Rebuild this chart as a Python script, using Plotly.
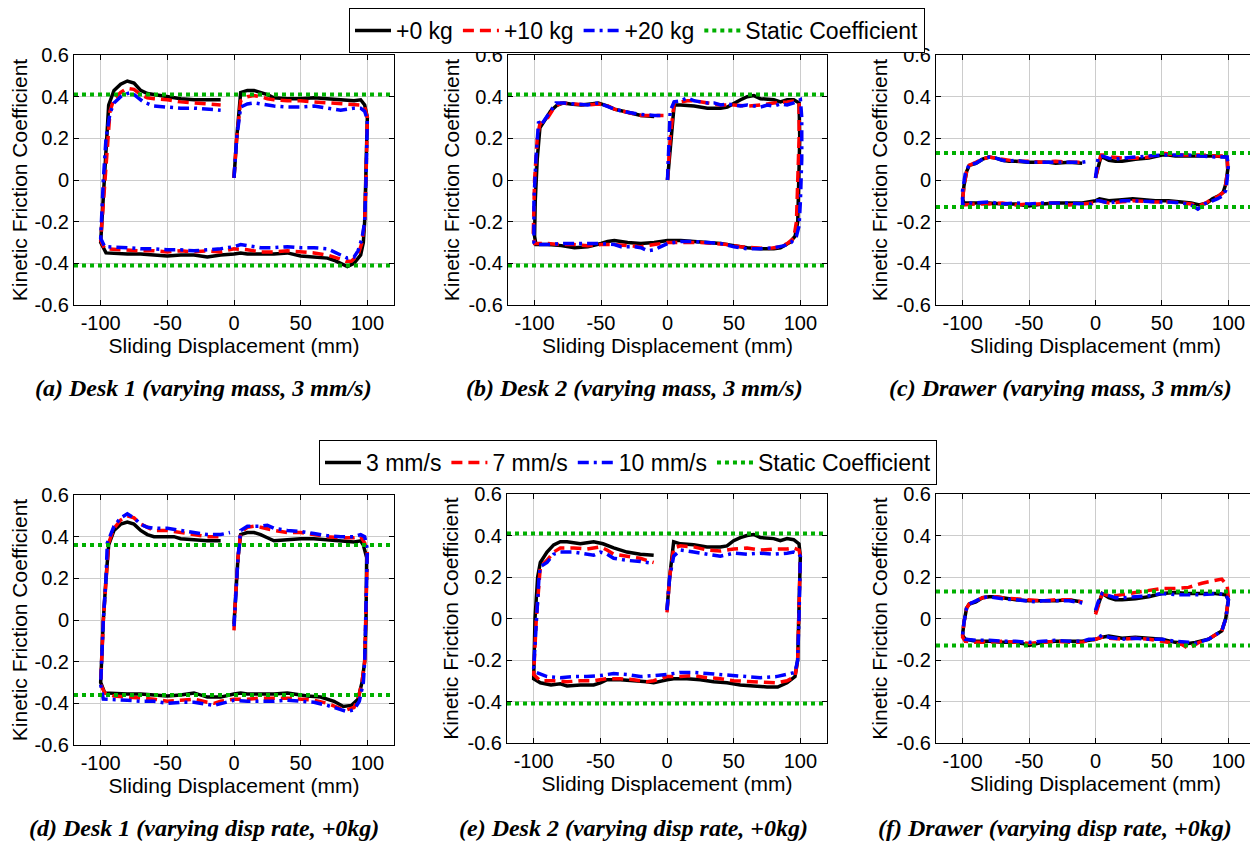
import plotly.graph_objects as go

# ---------------- data ----------------
X_TICKS = [-100, -50, 0, 50, 100]
X_TICK_TEXT = ["-100", "-50", "0", "50", "100"]
Y_TICKS = [-0.6, -0.4, -0.2, 0, 0.2, 0.4, 0.6]
Y_TICK_TEXT = ["-0.6", "-0.4", "-0.2", "0", "0.2", "0.4", "0.6"]
STATIC_X = [-120, 120]

LEGEND1_NAMES = ["+0 kg", "+10 kg", "+20 kg", "Static Coefficient"]
LEGEND2_NAMES = ["3 mm/s", "7 mm/s", "10 mm/s", "Static Coefficient"]
CAPTIONS = [
    "(a) Desk 1 (varying mass, 3 mm/s)",
    "(b) Desk 2 (varying mass, 3 mm/s)",
    "(c) Drawer (varying mass, 3 mm/s)",
    "(d) Desk 1 (varying disp rate, +0kg)",
    "(e) Desk 2 (varying disp rate, +0kg)",
    "(f) Drawer (varying disp rate, +0kg)",
]
STATIC_LEVELS = [0.41, 0.41, 0.13, 0.36, 0.41, 0.13]

# Panel (a) Desk 1, varying mass
A_0KG = [(0,0.01),(2,0.2),(5,0.42),(10,0.43),(15,0.43),(20,0.42),(25,0.41),(30,0.395),(40,0.39),(50,0.39),
         (60,0.395),(70,0.39),(80,0.385),(90,0.38),(95,0.385),(98,0.36),(100,0.30),(99,0.0),(98,-0.2),(97,-0.3),
         (95,-0.36),(90,-0.40),(85,-0.415),(80,-0.40),(75,-0.385),(70,-0.375),(60,-0.37),(50,-0.365),(40,-0.35),
         (30,-0.355),(20,-0.355),(10,-0.355),(5,-0.35),(0,-0.355),(-10,-0.36),(-20,-0.37),(-30,-0.36),(-40,-0.36),
         (-50,-0.365),(-60,-0.36),(-70,-0.355),(-80,-0.355),(-90,-0.35),(-96,-0.35),(-100,-0.30),(-99,-0.2),
         (-97,0.0),(-95,0.2),(-94,0.36),(-90,0.43),(-85,0.46),(-80,0.475),(-75,0.465),(-70,0.43),(-65,0.415),
         (-60,0.41),(-50,0.40),(-40,0.39),(-30,0.385),(-20,0.385),(-10,0.385)]
A_10KG = [(0,0.01),(2,0.2),(5,0.38),(10,0.40),(15,0.405),(20,0.40),(25,0.39),(30,0.385),(40,0.38),(50,0.38),
          (60,0.375),(70,0.37),(80,0.365),(90,0.36),(95,0.36),(98,0.35),(100,0.30),(99,0.0),(98,-0.2),(96,-0.3),
          (93,-0.36),(88,-0.39),(84,-0.39),(80,-0.38),(70,-0.36),(60,-0.35),(50,-0.345),(40,-0.34),(30,-0.345),
          (20,-0.345),(10,-0.335),(0,-0.33),(-10,-0.345),(-20,-0.34),(-30,-0.345),(-40,-0.34),(-50,-0.345),
          (-60,-0.34),(-70,-0.34),(-80,-0.335),(-90,-0.33),(-97,-0.33),(-100,-0.29),(-99,-0.2),(-97,0.0),
          (-95,0.2),(-93,0.33),(-90,0.39),(-85,0.42),(-80,0.44),(-75,0.435),(-70,0.41),(-65,0.395),(-60,0.39),
          (-50,0.385),(-40,0.375),(-30,0.37),(-20,0.365),(-10,0.36)]
A_20KG = [(0,0.01),(2,0.2),(5,0.35),(10,0.365),(15,0.37),(20,0.365),(25,0.36),(30,0.355),(40,0.35),(50,0.35),
          (60,0.355),(70,0.345),(80,0.335),(90,0.345),(95,0.345),(98,0.33),(100,0.29),(99,0.0),(98,-0.2),
          (96,-0.28),(93,-0.34),(90,-0.37),(85,-0.375),(80,-0.36),(75,-0.345),(70,-0.33),(60,-0.325),(50,-0.325),
          (40,-0.32),(30,-0.325),(20,-0.325),(10,-0.315),(5,-0.31),(0,-0.32),(-10,-0.33),(-20,-0.335),(-30,-0.34),
          (-40,-0.335),(-50,-0.335),(-60,-0.33),(-70,-0.33),(-80,-0.325),(-90,-0.32),(-97,-0.32),(-100,-0.28),
          (-99,-0.1),(-98,0.0),(-96,0.2),(-93,0.32),(-90,0.37),(-85,0.40),(-80,0.415),(-77,0.42),(-73,0.40),
          (-68,0.375),(-60,0.355),(-50,0.35),(-40,0.345),(-30,0.345),(-20,0.34),(-10,0.335)]

# Panel (b) Desk 2, varying mass
B_0KG = [(0,0.0),(2,0.15),(5,0.36),(10,0.36),(20,0.355),(30,0.345),(40,0.345),(45,0.35),(50,0.37),(55,0.385),
         (60,0.40),(65,0.405),(70,0.39),(80,0.385),(85,0.375),(90,0.385),(95,0.385),(99,0.37),(99.5,0.2),(99,0.0),
         (98,-0.2),(96,-0.27),(92,-0.3),(85,-0.325),(80,-0.33),(70,-0.33),(60,-0.325),(50,-0.315),(40,-0.305),
         (30,-0.30),(20,-0.295),(10,-0.29),(0,-0.29),(-10,-0.3),(-20,-0.305),(-30,-0.3),(-40,-0.29),(-45,-0.295),
         (-50,-0.305),(-60,-0.32),(-70,-0.325),(-80,-0.315),(-90,-0.31),(-99,-0.31),(-100,-0.27),(-99.5,-0.1),
         (-98,0.1),(-96,0.25),(-92,0.29),(-88,0.33),(-83,0.36),(-78,0.37),(-73,0.365),(-65,0.36),(-58,0.365),
         (-52,0.37),(-45,0.355),(-40,0.34),(-30,0.325),(-20,0.31),(-10,0.305)]
B_10KG = [(0,0.0),(2,0.2),(5,0.37),(10,0.375),(15,0.38),(20,0.38),(30,0.37),(40,0.36),(50,0.36),(60,0.355),
          (70,0.36),(80,0.37),(90,0.375),(97,0.38),(99,0.37),(99,0.2),(98,0.0),(97,-0.2),(95,-0.28),(90,-0.305),
          (85,-0.32),(75,-0.33),(65,-0.325),(55,-0.32),(45,-0.31),(35,-0.305),(25,-0.3),(15,-0.3),(5,-0.3),
          (0,-0.3),(-10,-0.31),(-20,-0.32),(-30,-0.315),(-40,-0.31),(-50,-0.31),(-60,-0.315),(-70,-0.31),
          (-80,-0.31),(-90,-0.305),(-100,-0.305),(-101,-0.26),(-100,0.0),(-98,0.2),(-96,0.27),(-90,0.30),
          (-85,0.35),(-80,0.37),(-70,0.365),(-60,0.36),(-52,0.365),(-45,0.355),(-40,0.34),(-30,0.325),
          (-20,0.31),(-10,0.31),(-3,0.31)]
B_20KG = [(0,0.0),(1,0.2),(2,0.33),(5,0.375),(10,0.38),(15,0.395),(20,0.38),(25,0.375),(30,0.37),(35,0.37),
          (40,0.36),(45,0.365),(50,0.36),(55,0.355),(60,0.36),(65,0.355),(70,0.35),(75,0.36),(80,0.355),
          (85,0.365),(90,0.36),(95,0.37),(100,0.385),(101,0.3),(101,0.1),(100,-0.1),(99,-0.22),(97,-0.27),
          (93,-0.3),(88,-0.315),(80,-0.325),(70,-0.33),(60,-0.33),(50,-0.32),(40,-0.305),(30,-0.3),(20,-0.295),
          (10,-0.295),(0,-0.305),(-5,-0.32),(-10,-0.335),(-15,-0.34),(-20,-0.325),(-25,-0.32),(-30,-0.32),
          (-35,-0.32),(-40,-0.31),(-50,-0.305),(-60,-0.305),(-70,-0.305),(-80,-0.305),(-90,-0.31),(-99,-0.31),
          (-100.5,-0.3),(-100.5,-0.1),(-99,0.1),(-98,0.2),(-97,0.28),(-95,0.265),(-92,0.29),(-88,0.33),
          (-84,0.37),(-78,0.37),(-70,0.365),(-60,0.36),(-52,0.37),(-45,0.355),(-40,0.34),(-30,0.325),
          (-20,0.315),(-10,0.31),(-2,0.31)]

# Panel (c) Drawer, varying mass
C_0KG = [(0,0.01),(2,0.06),(4,0.11),(7,0.105),(10,0.095),(15,0.09),(20,0.09),(25,0.095),(30,0.1),(40,0.105),
         (50,0.12),(55,0.12),(60,0.115),(70,0.115),(80,0.115),(90,0.115),(99,0.11),(99.5,0.05),(98,-0.02),
         (96,-0.06),(93,-0.075),(88,-0.09),(84,-0.11),(78,-0.12),(72,-0.11),(65,-0.105),(55,-0.1),(45,-0.1),
         (35,-0.095),(28,-0.09),(20,-0.095),(10,-0.1),(3,-0.09),(0,-0.1),(-10,-0.11),(-20,-0.11),(-30,-0.11),
         (-40,-0.115),(-50,-0.125),(-55,-0.12),(-60,-0.115),(-70,-0.115),(-80,-0.11),(-90,-0.11),(-99,-0.11),
         (-100,-0.09),(-99,-0.03),(-97,0.04),(-95,0.07),(-90,0.08),(-85,0.1),(-80,0.11),(-75,0.105),(-70,0.095),
         (-65,0.09),(-60,0.09),(-50,0.085),(-40,0.085),(-35,0.085),(-30,0.08),(-20,0.085),(-10,0.08)]
C_10KG = [(0,0.01),(2,0.07),(4,0.12),(8,0.12),(12,0.11),(20,0.105),(30,0.105),(40,0.11),(50,0.13),(55,0.125),
          (60,0.12),(70,0.12),(80,0.12),(90,0.115),(99,0.115),(99.5,0.05),(98,-0.02),(96,-0.06),(92,-0.08),
          (88,-0.09),(83,-0.11),(78,-0.125),(72,-0.115),(65,-0.11),(55,-0.105),(45,-0.105),(35,-0.1),(28,-0.1),
          (20,-0.105),(10,-0.11),(3,-0.1),(0,-0.11),(-10,-0.115),(-20,-0.12),(-30,-0.11),(-40,-0.115),
          (-50,-0.115),(-60,-0.12),(-70,-0.11),(-80,-0.115),(-90,-0.115),(-99,-0.12),(-100,-0.1),(-99,-0.03),
          (-97,0.04),(-95,0.07),(-90,0.085),(-85,0.1),(-80,0.11),(-75,0.105),(-70,0.1),(-65,0.095),(-60,0.09),
          (-50,0.09),(-40,0.085),(-30,0.09),(-20,0.085),(-10,0.085)]
C_20KG = [(0,0.01),(1,0.06),(2,0.11),(5,0.115),(10,0.105),(15,0.1),(20,0.105),(30,0.11),(40,0.115),(50,0.12),
          (60,0.12),(70,0.12),(80,0.115),(90,0.11),(99,0.11),(100,0.07),(99,0.0),(98,-0.05),(96,-0.075),
          (92,-0.09),(88,-0.1),(82,-0.115),(77,-0.14),(72,-0.12),(65,-0.11),(55,-0.105),(45,-0.105),(35,-0.1),
          (28,-0.1),(20,-0.1),(10,-0.11),(3,-0.1),(0,-0.1),(-3,-0.115),(-10,-0.115),(-20,-0.11),(-30,-0.11),
          (-40,-0.11),(-50,-0.115),(-60,-0.11),(-70,-0.115),(-80,-0.105),(-90,-0.11),(-99,-0.11),(-100,-0.12),
          (-100,-0.05),(-98,0.03),(-96,0.06),(-95,0.075),(-90,0.08),(-85,0.1),(-80,0.11),(-75,0.105),(-70,0.095),
          (-65,0.09),(-60,0.095),(-50,0.085),(-40,0.085),(-30,0.085),(-20,0.085),(-10,0.085),(-5,0.09)]

# Panel (d) Desk 1, varying displacement rate
D_3MMS = [(0,-0.02),(1,0.1),(3,0.3),(5,0.41),(10,0.42),(15,0.42),(20,0.41),(25,0.395),(30,0.38),(40,0.385),
          (50,0.39),(60,0.39),(70,0.385),(80,0.38),(90,0.375),(95,0.38),(97,0.36),(99.5,0.3),(99,0.0),(98,-0.2),
          (96,-0.3),(93,-0.38),(88,-0.41),(82,-0.415),(75,-0.39),(65,-0.37),(55,-0.365),(45,-0.355),(40,-0.35),
          (30,-0.355),(20,-0.355),(10,-0.355),(5,-0.35),(0,-0.355),(-10,-0.37),(-20,-0.37),(-30,-0.35),
          (-40,-0.36),(-50,-0.365),(-60,-0.36),(-70,-0.355),(-80,-0.355),(-90,-0.35),(-97,-0.35),(-100,-0.30),
          (-98,0.0),(-96,0.2),(-94,0.36),(-90,0.43),(-85,0.46),(-80,0.47),(-75,0.46),(-70,0.43),(-65,0.41),
          (-60,0.40),(-50,0.40),(-45,0.40),(-40,0.39),(-30,0.385),(-20,0.38),(-10,0.38)]
D_7MMS = [(0,-0.05),(1,0.1),(3,0.3),(5,0.42),(10,0.445),(15,0.45),(20,0.445),(30,0.43),(40,0.42),(50,0.42),
          (60,0.41),(70,0.40),(80,0.395),(90,0.395),(95,0.40),(98,0.37),(100,0.32),(99,0.0),(98,-0.2),(96,-0.3),
          (93,-0.38),(90,-0.42),(85,-0.43),(80,-0.425),(70,-0.40),(60,-0.385),(50,-0.38),(40,-0.375),(30,-0.375),
          (20,-0.375),(10,-0.38),(0,-0.38),(-10,-0.39),(-15,-0.40),(-20,-0.395),(-30,-0.38),(-40,-0.385),
          (-50,-0.39),(-60,-0.38),(-70,-0.375),(-80,-0.37),(-90,-0.365),(-97,-0.35),(-100,-0.31),(-98,0.0),
          (-96,0.2),(-94,0.37),(-90,0.44),(-85,0.48),(-80,0.50),(-75,0.49),(-70,0.46),(-65,0.445),(-60,0.43),
          (-50,0.43),(-40,0.42),(-30,0.41),(-20,0.40),(-10,0.40)]
D_10MMS = [(0,-0.03),(1,0.1),(3,0.3),(5,0.43),(10,0.45),(15,0.45),(20,0.45),(25,0.455),(30,0.44),(40,0.43),
           (50,0.425),(60,0.415),(70,0.405),(80,0.40),(90,0.40),(95,0.41),(98,0.40),(100,0.34),(99,0.0),
           (98,-0.2),(97,-0.3),(94,-0.39),(90,-0.43),(85,-0.44),(80,-0.43),(70,-0.41),(60,-0.395),(50,-0.39),
           (40,-0.385),(30,-0.39),(20,-0.39),(10,-0.39),(0,-0.385),(-10,-0.40),(-15,-0.41),(-20,-0.405),
           (-30,-0.395),(-40,-0.395),(-50,-0.40),(-60,-0.39),(-70,-0.39),(-80,-0.385),(-90,-0.38),(-98,-0.38),
           (-100,-0.31),(-98,0.0),(-96,0.2),(-95,0.37),(-90,0.45),(-85,0.49),(-80,0.51),(-75,0.49),(-70,0.46),
           (-65,0.445),(-60,0.44),(-50,0.44),(-40,0.43),(-30,0.42),(-20,0.41),(-10,0.41),(-3,0.42)]

# Panel (e) Desk 2, varying displacement rate
E_3MMS = [(0,0.04),(2,0.2),(5,0.37),(10,0.36),(20,0.355),(30,0.345),(40,0.345),(45,0.35),(50,0.375),(55,0.39),
          (60,0.40),(65,0.405),(70,0.39),(80,0.385),(85,0.375),(90,0.385),(95,0.38),(99,0.36),(100,0.3),(99,0.0),
          (98,-0.2),(96,-0.28),(90,-0.31),(83,-0.33),(75,-0.33),(65,-0.325),(55,-0.32),(45,-0.31),(35,-0.305),
          (25,-0.295),(15,-0.29),(5,-0.29),(0,-0.295),(-10,-0.31),(-15,-0.305),(-25,-0.30),(-35,-0.295),
          (-45,-0.295),(-50,-0.31),(-55,-0.32),(-65,-0.32),(-75,-0.325),(-80,-0.315),(-87,-0.32),(-95,-0.31),
          (-100,-0.29),(-99,0.0),(-97,0.2),(-95,0.27),(-90,0.32),(-85,0.355),(-80,0.37),(-75,0.37),(-65,0.36),
          (-55,0.37),(-48,0.36),(-40,0.34),(-30,0.32),(-20,0.31),(-10,0.305)]
E_7MMS = [(0,0.03),(2,0.2),(5,0.34),(10,0.35),(20,0.345),(30,0.33),(40,0.325),(50,0.335),(60,0.34),(70,0.33),
          (80,0.335),(90,0.335),(95,0.34),(99,0.33),(100,0.3),(99,0.0),(98,-0.2),(96,-0.28),(90,-0.3),(82,-0.31),
          (70,-0.305),(60,-0.305),(50,-0.3),(40,-0.29),(30,-0.285),(20,-0.275),(10,-0.28),(0,-0.28),(-10,-0.3),
          (-15,-0.305),(-25,-0.295),(-35,-0.29),(-45,-0.29),(-55,-0.3),(-65,-0.3),(-75,-0.305),(-85,-0.30),
          (-95,-0.3),(-100,-0.27),(-98,0.0),(-96,0.2),(-95,0.25),(-90,0.28),(-85,0.32),(-80,0.34),(-70,0.34),
          (-60,0.335),(-50,0.345),(-45,0.33),(-40,0.31),(-30,0.30),(-20,0.29),(-10,0.27)]
E_10MMS = [(0,0.04),(2,0.2),(5,0.30),(10,0.33),(20,0.32),(30,0.31),(40,0.30),(50,0.315),(60,0.31),(70,0.315),
           (80,0.31),(90,0.315),(95,0.32),(99,0.31),(100,0.3),(99,0.0),(98,-0.2),(96,-0.26),(90,-0.27),(82,-0.28),
           (70,-0.285),(60,-0.28),(50,-0.275),(40,-0.27),(30,-0.265),(20,-0.26),(10,-0.26),(0,-0.27),(-10,-0.275),
           (-20,-0.28),(-30,-0.27),(-40,-0.265),(-50,-0.275),(-60,-0.28),(-70,-0.28),(-80,-0.285),(-90,-0.28),
           (-98,-0.26),(-100,-0.24),(-98,0.0),(-96,0.2),(-95,0.25),(-90,0.27),(-85,0.31),(-80,0.32),(-70,0.32),
           (-60,0.31),(-55,0.305),(-50,0.32),(-45,0.31),(-40,0.29),(-30,0.28),(-20,0.275),(-10,0.265)]

# Panel (f) Drawer, varying displacement rate
F_3MMS = [(0,0.03),(3,0.08),(5,0.12),(10,0.1),(15,0.09),(20,0.09),(30,0.095),(40,0.105),(50,0.12),(60,0.125),
          (70,0.12),(80,0.12),(90,0.12),(98,0.115),(100,0.09),(98,0.0),(96,-0.04),(95,-0.06),(90,-0.08),(85,-0.1),
          (75,-0.115),(70,-0.12),(60,-0.115),(50,-0.1),(40,-0.095),(30,-0.09),(20,-0.095),(10,-0.085),(5,-0.09),
          (0,-0.1),(-5,-0.105),(-10,-0.11),(-20,-0.11),(-30,-0.11),(-40,-0.115),(-50,-0.13),(-55,-0.12),
          (-60,-0.115),(-70,-0.115),(-80,-0.11),(-90,-0.11),(-98,-0.1),(-100,-0.08),(-99,-0.02),(-97,0.05),
          (-95,0.07),(-90,0.08),(-85,0.1),(-80,0.105),(-75,0.105),(-70,0.1),(-60,0.09),(-50,0.085),(-40,0.085),
          (-30,0.085),(-20,0.09),(-10,0.08)]
F_7MMS = [(0,0.02),(3,0.08),(5,0.12),(10,0.11),(15,0.11),(20,0.115),(30,0.125),(40,0.135),(45,0.14),(50,0.145),
          (60,0.145),(70,0.15),(80,0.17),(90,0.185),(95,0.19),(99,0.16),(100,0.1),(98,0.0),(96,-0.04),(95,-0.06),
          (90,-0.08),(85,-0.1),(78,-0.115),(70,-0.145),(65,-0.125),(60,-0.12),(50,-0.11),(40,-0.1),(30,-0.095),
          (20,-0.1),(10,-0.095),(5,-0.09),(0,-0.1),(-5,-0.105),(-10,-0.115),(-20,-0.115),(-30,-0.11),
          (-40,-0.115),(-50,-0.12),(-60,-0.115),(-70,-0.11),(-80,-0.115),(-90,-0.115),(-98,-0.11),(-100,-0.09),
          (-99,-0.02),(-97,0.05),(-95,0.07),(-90,0.085),(-85,0.1),(-80,0.105),(-75,0.105),(-70,0.1),(-60,0.095),
          (-50,0.09),(-40,0.085),(-30,0.09),(-20,0.09),(-10,0.08)]
F_10MMS = [(0,0.04),(2,0.08),(5,0.12),(10,0.11),(15,0.1),(20,0.1),(30,0.105),(40,0.11),(50,0.12),(60,0.115),
           (70,0.115),(80,0.115),(90,0.12),(98,0.115),(100,0.09),(98,0.0),(96,-0.04),(95,-0.06),(90,-0.08),
           (85,-0.1),(75,-0.12),(70,-0.115),(60,-0.11),(50,-0.1),(40,-0.1),(30,-0.095),(20,-0.1),(10,-0.09),
           (5,-0.08),(0,-0.1),(-5,-0.1),(-10,-0.11),(-20,-0.11),(-30,-0.105),(-40,-0.11),(-50,-0.115),(-60,-0.11),
           (-70,-0.11),(-80,-0.105),(-90,-0.105),(-98,-0.1),(-100,-0.08),(-99,-0.02),(-97,0.05),(-95,0.07),
           (-90,0.085),(-85,0.1),(-80,0.105),(-75,0.1),(-70,0.095),(-60,0.09),(-50,0.085),(-45,0.08),(-40,0.085),
           (-30,0.085),(-20,0.085),(-10,0.075)]

PANELS = [
    [A_0KG, A_10KG, A_20KG],
    [B_0KG, B_10KG, B_20KG],
    [C_0KG, C_10KG, C_20KG],
    [D_3MMS, D_7MMS, D_10MMS],
    [E_3MMS, E_7MMS, E_10MMS],
    [F_3MMS, F_7MMS, F_10MMS],
]

# ---------------- styling / layout ----------------
OFF = 8                      # page body margin offset
W, H = 1258 - OFF, 843 - OFF
COLORS = ["#000000", "#ff0000", "#0000ff"]
DASHES = ["solid", "11px,6px", "11px,5px,3px,5px"]
STATIC_COLOR = "#00b000"
FONT = "Liberation Sans, Arial, sans-serif"

# axes boxes in page pixels: (left, right, top, bottom)
BOXES = [(74, 394, 55, 305), (508, 827, 55, 305), (936, 1255, 55, 305),
         (74, 394, 495, 745), (507, 827, 494, 743), (936, 1255, 494, 743)]
CAP_POS = [(203, 388), (634, 388), (1060, 388), (204, 828), (633, 828), (1055, 828)]


def fx(px):
    return (px - OFF) / W


def fy(py):
    return 1 - (py - OFF) / H


fig = go.Figure()
layout = dict(width=W, height=H, margin=dict(l=0, r=0, t=0, b=0, autoexpand=False),
              paper_bgcolor="white", plot_bgcolor="white",
              font=dict(family=FONT, color="black"))

for i, (series, lvl) in enumerate(zip(PANELS, STATIC_LEVELS)):
    n = i + 1
    xa, ya = f"x{n}", f"y{n}"
    leg = "legend" if i < 3 else "legend2"
    names = LEGEND1_NAMES if i < 3 else LEGEND2_NAMES
    show = i in (0, 3)
    for k, pts in enumerate(series):
        xs = [p[0] for p in pts]
        ys = [p[1] for p in pts]
        fig.add_trace(go.Scatter(x=xs, y=ys, mode="lines", name=names[k],
                                 line=dict(color=COLORS[k], width=3.5, dash=DASHES[k]),
                                 xaxis=xa, yaxis=ya, legend=leg, showlegend=show))
    for j, sgn in enumerate((1, -1)):
        fig.add_trace(go.Scatter(x=STATIC_X, y=[sgn * lvl] * 2, mode="lines", name=names[3],
                                 line=dict(color=STATIC_COLOR, width=4, dash="4px,4px"),
                                 xaxis=xa, yaxis=ya, legend=leg, showlegend=(show and j == 0)))
    l, r, t, b = BOXES[i]
    axis_common = dict(showline=True, linecolor="black", linewidth=1, mirror="ticks",
                       ticks="inside", ticklen=5, tickcolor="black", showgrid=True,
                       gridcolor="#cccccc", gridwidth=1, zeroline=False, automargin=False,
                       tickfont=dict(size=20, family=FONT, color="black"))
    layout[f"xaxis{n}"] = dict(domain=[fx(l), fx(r)], anchor=ya, range=[-120, 120],
                               tickvals=X_TICKS, ticktext=X_TICK_TEXT,
                               title=dict(text="Sliding Displacement (mm)", font=dict(size=21, family=FONT),
                                          standoff=0), **axis_common)
    layout[f"yaxis{n}"] = dict(domain=[fy(b), fy(t)], anchor=xa, range=[-0.6, 0.6],
                               tickvals=Y_TICKS, ticktext=Y_TICK_TEXT,
                               title=dict(text="Kinetic Friction Coefficient", font=dict(size=21, family=FONT),
                                          standoff=3), **axis_common)

legend_common = dict(orientation="h", xanchor="center", yanchor="top", bordercolor="black",
                     borderwidth=1, bgcolor="white", font=dict(size=23, family=FONT),
                     itemwidth=36, tracegroupgap=0)
layout["legend"] = dict(x=fx(637), y=fy(OFF), **legend_common)
layout["legend2"] = dict(x=fx(628), y=fy(440), **legend_common)

annotations = []
for cap, (cx, cy) in zip(CAPTIONS, CAP_POS):
    annotations.append(dict(text=f"<b><i>{cap}</i></b>", x=fx(cx), y=fy(cy), xref="paper", yref="paper",
                            showarrow=False, xanchor="center", yanchor="middle",
                            font=dict(family="Liberation Serif, Times New Roman, serif", size=24, color="black")))
layout["annotations"] = annotations

fig.update_layout(**layout)
fig.write_html("out.html")
